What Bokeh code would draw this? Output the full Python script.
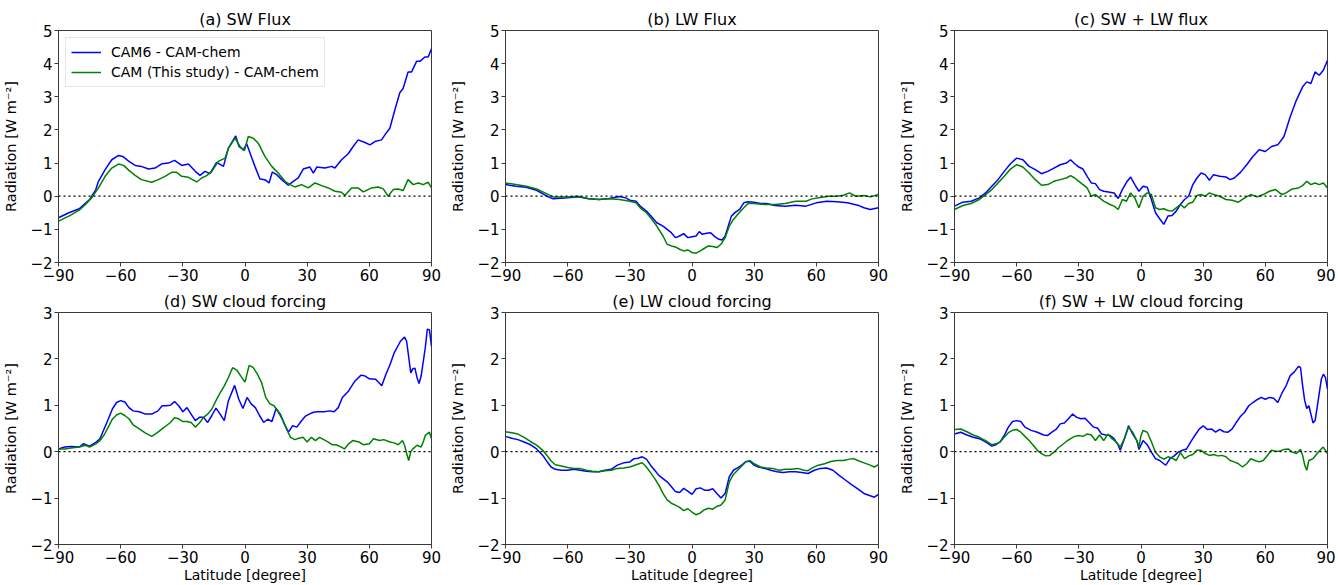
from bokeh.plotting import figure
from bokeh.layouts import column, row
from bokeh.models import Range1d, FixedTicker, Span
from bokeh.embed import file_html
from bokeh.resources import INLINE

# ---------------- data ----------------
series_names = ["CAM6 - CAM-chem", "CAM (This study) - CAM-chem"]
titles = ["(a) SW Flux", "(b) LW Flux", "(c) SW + LW flux",
          "(d) SW cloud forcing", "(e) LW cloud forcing", "(f) SW + LW cloud forcing"]
x_ticks = [-90, -60, -30, 0, 30, 60, 90]
y_ticks_top = [-2, -1, 0, 1, 2, 3, 4, 5]
y_ticks_bottom = [-2, -1, 0, 1, 2, 3]

# (a) SW Flux
a_lat_cam6 = [-90, -85, -80, -75, -72, -70.7, -67.5, -64.3, -61, -59, -56, -53, -50, -46.6, -43.4,
              -40, -37, -34, -30.5, -27.3, -24, -21.7, -19.3, -16.9, -13.7, -10.4, -8, -4.5, -2.9, -0.8,
              0.8, 2.9, 4.8, 7.2, 9.6, 11.6, 13.2, 15.3, 17.7, 20.9, 23.3, 25.7, 28.1, 31.3, 33,
              34.6, 38.6, 41.8, 43.4, 46.6, 49.8, 52.2, 54.6, 57.9, 60.3, 62.7, 65.9, 67.5, 69.9, 72.3,
              74.7, 76.3, 78.7, 80.4, 82.8, 84.4, 86.8, 88.4, 90]
a_cam6 = [-0.65, -0.5, -0.38, -0.1, 0.2, 0.45, 0.8, 1.1, 1.23, 1.2, 1.05, 0.93, 0.9, 0.82, 0.85,
          0.98, 1.0, 1.08, 0.93, 0.97, 0.75, 0.63, 0.75, 0.68, 1.02, 0.9, 1.45, 1.82, 1.5, 1.4,
          1.58, 1.22, 0.9, 0.52, 0.5, 0.4, 0.73, 0.65, 0.5, 0.33, 0.45, 0.55, 0.82, 0.88, 0.7,
          0.88, 0.85, 0.9, 0.85, 1.1, 1.28, 1.5, 1.7, 1.62, 1.55, 1.65, 1.7, 1.85, 2.05, 2.6,
          3.12, 3.25, 3.75, 3.75, 4.07, 4.07, 4.2, 4.2, 4.45]
a_lat_study = [-90, -85, -80, -77, -74, -70.7, -67.5, -64.3, -61, -58.6, -56, -53, -50, -45, -41.8,
               -38.6, -35.4, -33, -30.5, -27.3, -23.3, -20.9, -18.5, -16, -12.9, -9.6, -8, -4.8, -2.4, -0.3,
               1.6, 4, 6.4, 9.6, 12.9, 16, 19.3, 21.7, 24.1, 27.3, 30.5, 33.8, 37, 40.2, 43.4,
               46.6, 48.2, 51.4, 54.6, 57.1, 61.1, 64.3, 66.7, 69.1, 71.5, 73.9, 76.3, 78.7, 81.2, 83.6,
               86, 88.4, 90]
a_study = [-0.75, -0.6, -0.42, -0.25, -0.05, 0.25, 0.6, 0.85, 0.97, 0.93, 0.78, 0.63, 0.5, 0.42, 0.5,
           0.6, 0.72, 0.72, 0.6, 0.57, 0.43, 0.55, 0.62, 0.75, 1.05, 1.15, 1.45, 1.75, 1.5, 1.37,
           1.8, 1.75, 1.6, 1.2, 0.9, 0.7, 0.45, 0.35, 0.28, 0.35, 0.25, 0.4, 0.32, 0.25, 0.15,
           0.12, 0.02, 0.25, 0.25, 0.13, 0.25, 0.28, 0.22, 0.0, 0.2, 0.22, 0.17, 0.5, 0.35, 0.4,
           0.35, 0.42, 0.25]

# (b) LW Flux
b_lat_cam6 = [-90, -85, -80, -75, -70, -67, -60, -55, -50, -45, -40, -35, -32, -30, -27,
              -25, -22, -20, -17, -14, -12, -10, -8, -6, -4, -2, 0, 2, 3.5, 5,
              7, 9, 11, 13, 14.5, 16, 17.5, 19, 21, 23, 25, 27, 30, 33, 36,
              40, 45, 50, 55, 60, 65, 70, 75, 80, 83, 86, 90]
b_cam6 = [0.35, 0.3, 0.27, 0.18, 0.0, -0.08, -0.05, -0.02, -0.08, -0.1, -0.07, -0.01, -0.05, -0.12, -0.15,
          -0.3, -0.45, -0.58, -0.8, -0.9, -1.0, -1.1, -1.25, -1.2, -1.13, -1.25, -1.22, -1.2, -1.07, -1.15,
          -1.12, -1.1, -1.22, -1.3, -1.32, -1.2, -0.9, -0.6, -0.48, -0.4, -0.2, -0.17, -0.18, -0.22, -0.22,
          -0.28, -0.3, -0.27, -0.3, -0.2, -0.15, -0.17, -0.2, -0.27, -0.35, -0.4, -0.35]
b_lat_study = [-90, -85, -80, -75, -70, -67, -60, -55, -50, -45, -40, -35, -30, -27, -25,
               -22, -20, -17, -14, -12, -10, -8, -6, -4, -2, 0, 2, 4, 6, 8,
               10, 12, 14, 16, 18, 20, 22, 25, 27, 30, 35, 40, 45, 50, 55,
               58, 62, 66, 70, 73, 76, 79, 83, 86, 90]
b_study = [0.4, 0.35, 0.3, 0.22, 0.07, -0.02, -0.02, 0.0, -0.07, -0.1, -0.08, -0.1, -0.15, -0.2, -0.35,
           -0.5, -0.65, -0.9, -1.2, -1.45, -1.5, -1.53, -1.6, -1.65, -1.62, -1.7, -1.72, -1.65, -1.57, -1.5,
           -1.52, -1.55, -1.45, -1.25, -0.9, -0.7, -0.55, -0.35, -0.22, -0.22, -0.25, -0.25, -0.22, -0.15, -0.15,
           -0.08, -0.04, 0.0, 0.0, 0.03, 0.1, 0.0, 0.02, -0.02, 0.05]

# (c) SW + LW flux
c_lat_cam6 = [-90, -86, -82, -78, -75, -72, -69, -66, -63, -60, -57, -54, -51, -48, -45,
              -42, -39, -36, -34, -32, -30, -28, -26, -24, -22, -20, -18, -15, -13, -11,
              -9, -7, -5, -3, -1, 1, 3, 5, 7, 9, 11, 13, 15, 17, 19,
              21, 23, 25, 27, 29, 31, 33, 35, 38, 41, 43, 45, 48, 51, 54,
              57, 60, 63, 66, 69, 72, 75, 78, 80, 82, 84, 86, 88, 90]
c_cam6 = [-0.3, -0.18, -0.15, -0.05, 0.1, 0.3, 0.5, 0.75, 0.98, 1.15, 1.1, 0.9, 0.8, 0.68, 0.75,
          0.85, 0.95, 1.0, 1.1, 0.98, 0.88, 0.82, 0.6, 0.4, 0.38, 0.2, 0.15, 0.12, 0.1, -0.07,
          0.2, 0.42, 0.58, 0.35, 0.15, 0.3, 0.27, -0.1, -0.5, -0.68, -0.85, -0.6, -0.58, -0.45, -0.25,
          -0.1, 0.0, 0.35, 0.55, 0.7, 0.65, 0.48, 0.65, 0.6, 0.58, 0.5, 0.55, 0.72, 0.95, 1.2,
          1.4, 1.35, 1.5, 1.55, 1.8, 2.4, 2.9, 3.3, 3.45, 3.4, 3.75, 3.65, 3.8, 4.1]
c_lat_study = [-90, -86, -82, -78, -75, -72, -69, -66, -63, -60, -57, -54, -51, -48, -45,
               -42, -39, -36, -34, -32, -30, -28, -26, -24, -22, -20, -18, -15, -13, -11,
               -9, -7, -5, -3, -1, 1, 3, 5, 7, 9, 11, 13, 15, 17, 19,
               21, 23, 25, 27, 29, 31, 33, 35, 38, 41, 44, 47, 50, 53, 56,
               59, 62, 65, 68, 70, 73, 76, 78, 80, 82, 84, 86, 88, 90]
c_study = [-0.4, -0.28, -0.22, -0.1, 0.05, 0.2, 0.4, 0.6, 0.82, 0.95, 0.88, 0.7, 0.5, 0.33, 0.35,
           0.45, 0.5, 0.55, 0.62, 0.55, 0.45, 0.35, 0.25, 0.0, 0.05, -0.05, -0.15, -0.25, -0.3, -0.4,
           -0.1, -0.15, 0.1, -0.05, -0.35, 0.0, 0.1, 0.05, -0.35, -0.4, -0.38, -0.43, -0.45, -0.35, -0.25,
           -0.35, -0.22, -0.18, 0.02, 0.05, 0.0, 0.1, 0.05, 0.0, -0.1, -0.12, -0.18, -0.05, 0.05, -0.02,
           0.05, 0.15, 0.2, 0.05, 0.1, 0.22, 0.25, 0.32, 0.45, 0.35, 0.4, 0.35, 0.4, 0.25]

# (d) SW cloud forcing
d_lat_cam6 = [-90, -87, -84, -80, -78, -75, -72, -70, -68, -66, -64, -62, -60, -58, -56,
              -54, -51, -48, -45, -42, -40, -38, -36, -34, -32, -30, -28, -26, -24, -22,
              -20, -18, -16, -14, -12, -10, -8, -5, -3, -1, 1, 3, 5, 7, 9,
              11, 13, 15, 17, 19, 21, 23, 25, 27, 29, 31, 33, 35, 38, 41,
              43, 45, 47, 50, 53, 56, 58, 60, 63, 65, 66, 68, 70, 72, 75,
              77, 78, 80, 81, 82, 83, 84, 85, 87, 88, 89, 90]
d_cam6 = [0.06, 0.1, 0.11, 0.1, 0.17, 0.12, 0.2, 0.28, 0.49, 0.7, 0.92, 1.06, 1.1, 1.07, 0.95,
          0.88, 0.86, 0.81, 0.81, 0.88, 0.99, 0.99, 1.0, 1.08, 0.99, 0.86, 0.95, 0.81, 0.67, 0.74,
          0.74, 0.63, 0.78, 0.94, 0.81, 0.67, 1.1, 1.43, 1.13, 0.93, 1.17, 1.03, 0.95, 0.78, 0.63,
          0.7, 0.65, 0.93, 0.81, 0.6, 0.42, 0.56, 0.53, 0.65, 0.76, 0.81, 0.85, 0.86, 0.86, 0.88,
          0.86, 0.95, 1.17, 1.31, 1.52, 1.65, 1.63, 1.57, 1.56, 1.47, 1.42, 1.67, 1.88, 2.13, 2.38,
          2.47, 2.38, 1.7, 1.79, 1.8, 1.6, 1.47, 1.63, 2.24, 2.64, 2.63, 2.27]
d_lat_study = [-90, -87, -84, -80, -77, -75, -72, -70, -68, -66, -64, -62, -60, -58, -56,
               -54, -51, -48, -45, -42, -40, -38, -36, -34, -32, -30, -28, -26, -24, -22,
               -20, -18, -16, -14, -12, -10, -8, -6, -4, -2, 0, 2, 4, 6, 8,
               10, 12, 14, 16, 18, 20, 22, 24, 26, 28, 30, 32, 34, 36, 38,
               40, 42, 44, 46, 48, 50, 52, 55, 57, 60, 62, 65, 67, 70, 72,
               74, 76, 77, 78, 79, 80, 81, 83, 85, 86, 87, 89, 90]
d_study = [0.06, 0.06, 0.08, 0.1, 0.14, 0.1, 0.17, 0.24, 0.36, 0.53, 0.7, 0.79, 0.83, 0.78, 0.71,
           0.58, 0.49, 0.4, 0.33, 0.42, 0.49, 0.56, 0.63, 0.73, 0.71, 0.65, 0.65, 0.63, 0.53, 0.62,
           0.74, 0.81, 0.92, 1.1, 1.27, 1.42, 1.6, 1.81, 1.76, 1.63, 1.5, 1.86, 1.81, 1.67, 1.49,
           1.17, 1.03, 0.99, 0.86, 0.7, 0.49, 0.31, 0.26, 0.29, 0.31, 0.21, 0.31, 0.24, 0.31, 0.26,
           0.21, 0.15, 0.15, 0.11, 0.06, 0.17, 0.24, 0.21, 0.15, 0.17, 0.28, 0.24, 0.26, 0.21, 0.19,
           0.15, 0.24, 0.14, -0.04, -0.19, 0.0, 0.06, 0.14, 0.1, 0.21, 0.35, 0.42, 0.28]

# (e) LW cloud forcing
e_lat_cam6 = [-90, -87, -84, -81, -78, -75, -72, -70, -68, -66, -63, -60, -57, -54, -51,
              -48, -45, -42, -39, -36, -33, -30, -28, -26, -24, -22, -20, -18, -16, -14,
              -12, -10, -8, -6, -4, -2, 0, 2, 4, 6, 8, 10, 12, 14, 16,
              18, 20, 22, 24, 26, 28, 30, 32, 35, 38, 41, 44, 47, 50, 53,
              56, 59, 62, 65, 68, 71, 74, 77, 80, 83, 86, 88, 90]
e_cam6 = [0.33, 0.29, 0.26, 0.21, 0.15, 0.06, -0.08, -0.21, -0.33, -0.38, -0.4, -0.4, -0.38, -0.4, -0.42,
          -0.43, -0.43, -0.4, -0.38, -0.29, -0.24, -0.22, -0.15, -0.14, -0.11, -0.16, -0.29, -0.4, -0.51, -0.58,
          -0.65, -0.75, -0.86, -0.88, -0.79, -0.85, -0.92, -0.8, -0.78, -0.83, -0.83, -0.8, -0.9, -1.0, -0.9,
          -0.54, -0.4, -0.35, -0.29, -0.21, -0.21, -0.29, -0.33, -0.36, -0.4, -0.43, -0.45, -0.43, -0.43, -0.45,
          -0.47, -0.4, -0.36, -0.35, -0.4, -0.51, -0.61, -0.71, -0.8, -0.9, -0.95, -0.98, -0.92]
e_lat_study = [-90, -87, -84, -81, -78, -75, -72, -70, -68, -66, -63, -60, -57, -54, -51,
               -48, -45, -42, -39, -36, -33, -30, -27, -24, -22, -20, -18, -16, -14, -12,
               -10, -8, -6, -4, -2, 0, 2, 4, 6, 8, 10, 12, 14, 16, 18,
               20, 22, 24, 26, 28, 30, 33, 36, 39, 42, 45, 48, 51, 54, 56,
               58, 61, 64, 67, 70, 73, 76, 78, 80, 83, 86, 88, 90]
e_study = [0.43, 0.41, 0.38, 0.31, 0.22, 0.14, 0.03, -0.08, -0.2, -0.28, -0.31, -0.34, -0.36, -0.36, -0.4,
           -0.42, -0.43, -0.41, -0.4, -0.36, -0.35, -0.33, -0.28, -0.24, -0.33, -0.45, -0.58, -0.72, -0.9, -1.04,
           -1.11, -1.15, -1.2, -1.27, -1.23, -1.3, -1.36, -1.32, -1.25, -1.22, -1.24, -1.18, -1.15, -1.04, -0.65,
           -0.49, -0.4, -0.31, -0.22, -0.19, -0.26, -0.33, -0.35, -0.36, -0.4, -0.38, -0.38, -0.36, -0.4, -0.41,
           -0.35, -0.29, -0.26, -0.21, -0.19, -0.19, -0.16, -0.15, -0.19, -0.24, -0.29, -0.33, -0.28]

# (f) SW + LW cloud forcing
f_lat_cam6 = [-90, -87, -84, -81, -78, -75, -72, -70, -68, -66, -64, -62, -60, -58, -56,
              -53, -50, -47, -45, -43, -41, -39, -37, -35, -33, -31, -29, -27, -25, -23,
              -21, -19, -17, -15, -13, -11, -10, -8, -6, -4, -2, -1, 1, 3, 5,
              7, 9, 11, 12, 14, 16, 18, 20, 22, 24, 26, 28, 30, 32, 34,
              36, 38, 40, 42, 44, 46, 48, 50, 52, 54, 56, 58, 60, 62, 64,
              66, 68, 70, 72, 74, 76, 77, 78, 79, 80, 81, 82, 83, 84, 85,
              87, 88, 89, 90]
f_cam6 = [0.38, 0.42, 0.36, 0.31, 0.28, 0.21, 0.12, 0.15, 0.21, 0.35, 0.53, 0.65, 0.67, 0.65, 0.53,
          0.46, 0.42, 0.36, 0.35, 0.42, 0.48, 0.6, 0.62, 0.71, 0.81, 0.74, 0.71, 0.72, 0.63, 0.53,
          0.51, 0.38, 0.36, 0.35, 0.28, 0.14, 0.03, 0.28, 0.56, 0.38, 0.24, 0.05, 0.24, 0.15, -0.01,
          -0.15, -0.19, -0.26, -0.29, -0.15, -0.09, -0.01, 0.03, 0.06, 0.21, 0.35, 0.48, 0.56, 0.48, 0.49,
          0.42, 0.48, 0.43, 0.42, 0.49, 0.63, 0.76, 0.85, 0.99, 1.06, 1.12, 1.17, 1.13, 1.17, 1.15,
          1.06, 1.26, 1.42, 1.64, 1.72, 1.84, 1.81, 1.42, 1.1, 0.93, 0.99, 0.81, 0.62, 0.67, 0.95,
          1.56, 1.67, 1.6, 1.35]
f_lat_study = [-90, -87, -84, -81, -78, -75, -72, -70, -68, -66, -64, -62, -60, -58, -56,
               -54, -52, -50, -48, -46, -44, -42, -40, -38, -36, -34, -32, -30, -28, -26,
               -24, -22, -20, -18, -16, -14, -12, -10, -8, -6, -4, -2, -1, 0, 1,
               3, 5, 6, 7, 9, 11, 13, 15, 17, 19, 21, 23, 25, 27, 29,
               31, 33, 35, 37, 39, 41, 43, 45, 47, 49, 51, 53, 55, 57, 59,
               61, 63, 65, 67, 69, 71, 73, 75, 77, 78, 79, 80, 81, 83, 85,
               87, 88, 89, 90]
f_study = [0.48, 0.49, 0.43, 0.36, 0.31, 0.24, 0.15, 0.17, 0.21, 0.31, 0.41, 0.46, 0.48, 0.42, 0.33,
           0.24, 0.14, 0.03, -0.04, -0.09, -0.08, -0.01, 0.08, 0.15, 0.22, 0.28, 0.33, 0.35, 0.33, 0.38,
           0.36, 0.24, 0.36, 0.24, 0.38, 0.28, 0.21, 0.1, 0.28, 0.53, 0.42, 0.24, 0.1, 0.35, 0.46,
           0.42, 0.22, 0.1, -0.01, -0.11, -0.16, -0.11, -0.14, -0.19, -0.02, -0.15, -0.09, -0.06, 0.03, 0.03,
           -0.04, -0.08, -0.06, -0.09, -0.08, -0.11, -0.19, -0.22, -0.26, -0.33, -0.26, -0.15, -0.19, -0.22, -0.19,
           -0.08, 0.03, 0.01, 0.01, 0.05, 0.06, -0.01, -0.04, 0.05, -0.08, -0.29, -0.4, -0.19, -0.15, -0.04,
           0.06, 0.1, 0.03, -0.04]

# ---------------- styling ----------------
FONT = "DejaVu Sans"
BLUE = "#0000ff"
GREEN = "#008000"
SPINE = "#3a3a3a"
MINUS = "\u2212"


def fmt(v):
    return (MINUS + str(abs(v))) if v < 0 else str(v)


def make_panel(title, ymin, ymax, yticks, blue, green, col, bottom_row, legend=False):
    left_b = 58
    right_b = [16, 18, 8][col]
    top_b = 30 if not bottom_row else 20
    bot_b = 26 if not bottom_row else 34
    p = figure(frame_width=373, frame_height=232,
               min_border_left=left_b, min_border_right=right_b,
               min_border_top=top_b, min_border_bottom=bot_b,
               x_range=Range1d(-90, 90), y_range=Range1d(ymin, ymax),
               toolbar_location=None, output_backend="svg", title=title)
    p.title.align = "center"
    p.title.text_font = FONT
    p.title.text_font_size = "16px"
    p.title.text_font_style = "normal"
    p.title.text_color = "#000000"
    p.title.standoff = 3
    p.title.offset = 0

    p.xgrid.visible = False
    p.ygrid.visible = False
    p.outline_line_color = SPINE
    p.outline_line_width = 1
    p.outline_line_alpha = 1.0
    p.background_fill_color = "white"
    p.border_fill_color = "white"

    for ax in (p.xaxis[0], p.yaxis[0]):
        ax.axis_line_color = SPINE
        ax.major_tick_line_color = SPINE
        ax.major_tick_out = 4
        ax.major_tick_in = 0
        ax.minor_tick_line_color = None
        ax.major_label_text_font = FONT
        ax.major_label_text_font_size = "15px"
        ax.major_label_text_color = "#000000"
        ax.axis_label_text_font = FONT
        ax.axis_label_text_font_size = "14px"
        ax.axis_label_text_font_style = "normal"
        ax.axis_label_text_color = "#000000"
        ax.major_label_standoff = 2

    p.yaxis[0].axis_label_text_font_size = "14.5px"
    p.xaxis[0].ticker = FixedTicker(ticks=x_ticks)
    p.xaxis[0].major_label_overrides = {t: fmt(t) for t in x_ticks}
    p.yaxis[0].ticker = FixedTicker(ticks=yticks)
    p.yaxis[0].major_label_overrides = {t: fmt(t) for t in yticks}
    p.yaxis[0].axis_label = "Radiation [W m\u207b\u00b2]"
    p.yaxis[0].axis_label_standoff = 8
    if bottom_row:
        p.xaxis[0].axis_label = "Latitude [degree]"
        p.xaxis[0].axis_label_standoff = 1

    p.add_layout(Span(location=0, dimension="width", line_color="#000000",
                      line_width=1.3, line_dash="2 3"))

    if legend:
        p.line(blue[0], blue[1], line_color=BLUE, line_width=1.5, legend_label=series_names[0])
        p.line(green[0], green[1], line_color=GREEN, line_width=1.5, legend_label=series_names[1])
        lg = p.legend[0]
        lg.location = "top_left"
        lg.margin = 7
        lg.padding = 5
        lg.spacing = 2
        lg.glyph_width = 30
        lg.glyph_height = 18
        lg.label_height = 18
        lg.label_standoff = 10
        lg.label_text_font = FONT
        lg.label_text_font_size = "14px"
        lg.label_text_color = "#000000"
        lg.border_line_color = "#d0d0d0"
        lg.border_line_width = 1
        lg.background_fill_color = "white"
        lg.background_fill_alpha = 0.85
    else:
        p.line(blue[0], blue[1], line_color=BLUE, line_width=1.5)
        p.line(green[0], green[1], line_color=GREEN, line_width=1.5)
    return p


pa = make_panel(titles[0], -2, 5, y_ticks_top, (a_lat_cam6, a_cam6), (a_lat_study, a_study), 0, False, legend=True)
pb = make_panel(titles[1], -2, 5, y_ticks_top, (b_lat_cam6, b_cam6), (b_lat_study, b_study), 1, False)
pc = make_panel(titles[2], -2, 5, y_ticks_top, (c_lat_cam6, c_cam6), (c_lat_study, c_study), 2, False)
pd = make_panel(titles[3], -2, 3, y_ticks_bottom, (d_lat_cam6, d_cam6), (d_lat_study, d_study), 0, True)
pe = make_panel(titles[4], -2, 3, y_ticks_bottom, (e_lat_cam6, e_cam6), (e_lat_study, e_study), 1, True)
pf = make_panel(titles[5], -2, 3, y_ticks_bottom, (f_lat_cam6, f_cam6), (f_lat_study, f_study), 2, True)

p = column(row(pa, pb, pc), row(pd, pe, pf))

open("out.html", "w").write(file_html(p, INLINE))
